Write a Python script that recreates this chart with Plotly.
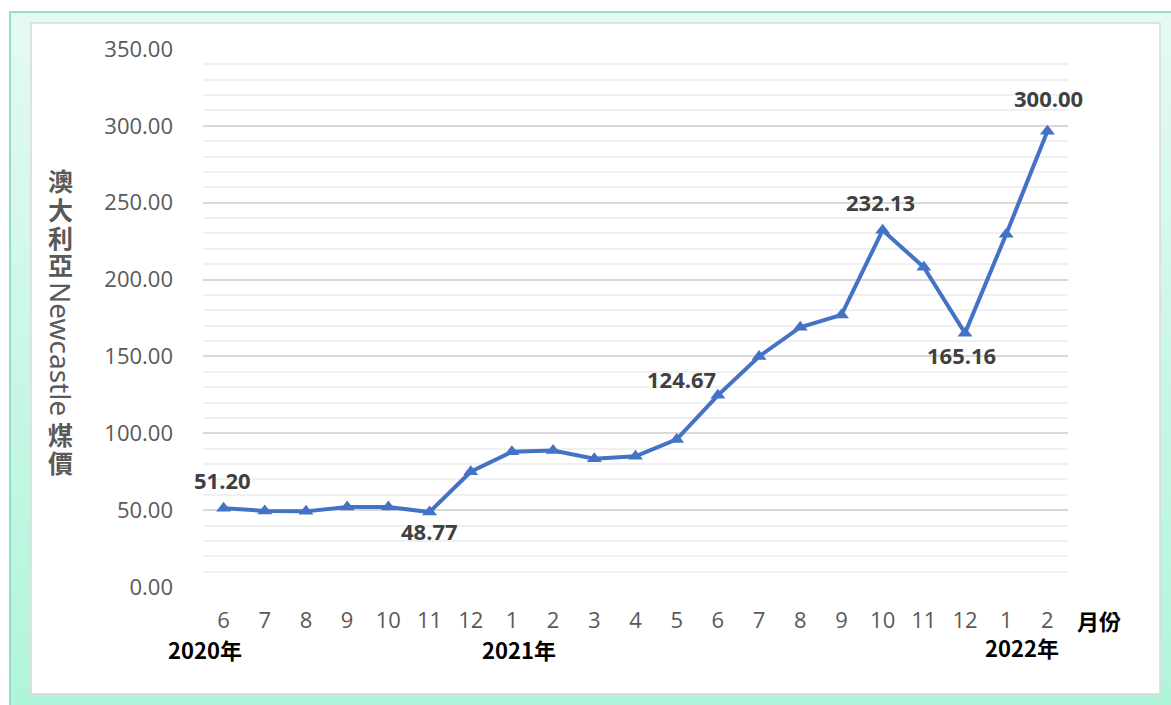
import plotly.graph_objects as go

# ---------------- data ----------------
months = ["6", "7", "8", "9", "10", "11", "12", "1", "2", "3", "4", "5", "6",
          "7", "8", "9", "10", "11", "12", "1", "2"]
prices = [51.20, 49.5, 49.2, 52.0, 52.0, 48.77, 75.0, 88.0, 88.8, 83.5, 85.0,
          96.0, 124.67, 150.0, 169.0, 177.0, 232.13, 208.0, 165.16, 229.5, 296.5]
label_idx = [0, 5, 12, 16, 18, 20]
label_text = ["51.20", "48.77", "124.67", "232.13", "165.16", "300.00"]
year_labels = ["2020年", "2021年", "2022年"]
y_ticks = [0, 50, 100, 150, 200, 250, 300, 350]
y_title_cjk_top = ["澳", "大", "利", "亞"]
y_title_latin = "Newcastle"
y_title_cjk_bottom = ["煤", "價"]
x_unit = "月份"

# ---------------- geometry ----------------
W, H = 1171, 705
L, R, T, B = 203, 1068, 49, 587   # plot area in pixels
PW, PH = R - L, B - T


def px(x):
    return (x - L) / PW


def py(y):
    return (B - y) / PH


xs = list(range(len(months)))

fig = go.Figure()
fig.add_trace(go.Scatter(
    x=xs, y=prices, mode="lines+markers",
    line=dict(color="#4472C4", width=4),
    marker=dict(symbol="triangle-up", size=13, color="#4472C4"),
    hoverinfo="skip", showlegend=False,
))

# ---------------- background frame ----------------
shapes = []
top_c = (228, 250, 241)
bot_c = (176, 245, 218)
n_bands = 30
y0, y1 = 12, 705
for i in range(n_bands):
    a = y0 + (y1 - y0) * i / n_bands
    b = y0 + (y1 - y0) * (i + 1) / n_bands + 1
    t = i / (n_bands - 1)
    c = tuple(int(round(top_c[k] + (bot_c[k] - top_c[k]) * t)) for k in range(3))
    shapes.append(dict(type="rect", xref="paper", yref="paper",
                       x0=px(10), x1=px(W + 5), y0=py(a), y1=py(b),
                       fillcolor="rgb(%d,%d,%d)" % c, line=dict(width=0),
                       layer="below"))
shapes.append(dict(type="rect", xref="paper", yref="paper",
                   x0=px(10), x1=px(W + 5), y0=py(12), y1=py(H + 10),
                   fillcolor="rgba(0,0,0,0)", line=dict(color="#7FD3B3", width=1.5),
                   layer="below"))
shapes.append(dict(type="rect", xref="paper", yref="paper",
                   x0=px(31), x1=px(1160), y0=py(23), y1=py(694),
                   fillcolor="white", line=dict(color="#D9D9D9", width=1.5),
                   layer="below"))

# ---------------- annotations ----------------
ann = []
shifts = {0: (-1, 28), 5: (0, -19), 12: (-36, 16), 16: (-2, 28), 18: (-4, -22), 20: (1, 33)}
for i, txt in zip(label_idx, label_text):
    dx, dy = shifts[i]
    ann.append(dict(x=xs[i], y=prices[i], xref="x", yref="y", text=txt,
                    showarrow=False, xshift=dx, yshift=dy,
                    xanchor="center", yanchor="middle",
                    font=dict(family="Open Sans", size=22, color="#404040", weight="bold")))


def paper_text(x, y, txt, font, angle=0):
    return dict(x=px(x), y=py(y), xref="paper", yref="paper", text=txt,
                showarrow=False, xanchor="center", yanchor="middle",
                textangle=angle, font=font, borderpad=0)


year_font = dict(family="Noto Sans CJK TC", size=22, color="#000000", weight="bold")
year_pos = [(205, 649), (519, 649), (1022, 647)]
for txt, (x, y) in zip(year_labels, year_pos):
    ann.append(paper_text(x, y, txt, year_font))
ann.append(paper_text(1099, 620, x_unit, year_font))

# vertical axis title: upright CJK characters + rotated Latin word
title_font = dict(family="Noto Sans CJK TC", size=25, color="#595959", weight="bold")
for ch, y in zip(y_title_cjk_top, [180, 209, 237, 264]):
    ann.append(paper_text(60, y, ch, title_font))
ann.append(paper_text(61, 349, y_title_latin,
                      dict(family="Noto Sans", size=28, color="#595959"), angle=90))
for ch, y in zip(y_title_cjk_bottom, [434, 462]):
    ann.append(paper_text(60, y, ch, title_font))

tick_font = dict(family="Open Sans", size=22, color="#595959")
fig.update_layout(
    width=W, height=H,
    margin=dict(l=L, r=W - R, t=T, b=H - B, pad=0),
    paper_bgcolor="white", plot_bgcolor="rgba(0,0,0,0)",
    shapes=shapes, annotations=ann,
    xaxis=dict(range=[-0.5, len(months) - 0.5], tickmode="array", tickvals=xs,
               ticktext=months, showgrid=False, zeroline=False, showline=False,
               ticks="", ticklabelstandoff=18, tickfont=tick_font),
    yaxis=dict(range=[0, 350], tickmode="array", tickvals=y_ticks,
               ticktext=["%.2f" % v for v in y_ticks],
               showgrid=True, gridcolor="#D9D9D9", gridwidth=1.5,
               minor=dict(dtick=10, showgrid=True, gridcolor="#F0F0F0", gridwidth=1.5),
               zeroline=False, showline=False, ticks="", ticklabelstandoff=29,
               tickfont=tick_font),
)

fig.write_html("out.html", config={"displayModeBar": False},
               post_script="document.body.style.margin='0';")
